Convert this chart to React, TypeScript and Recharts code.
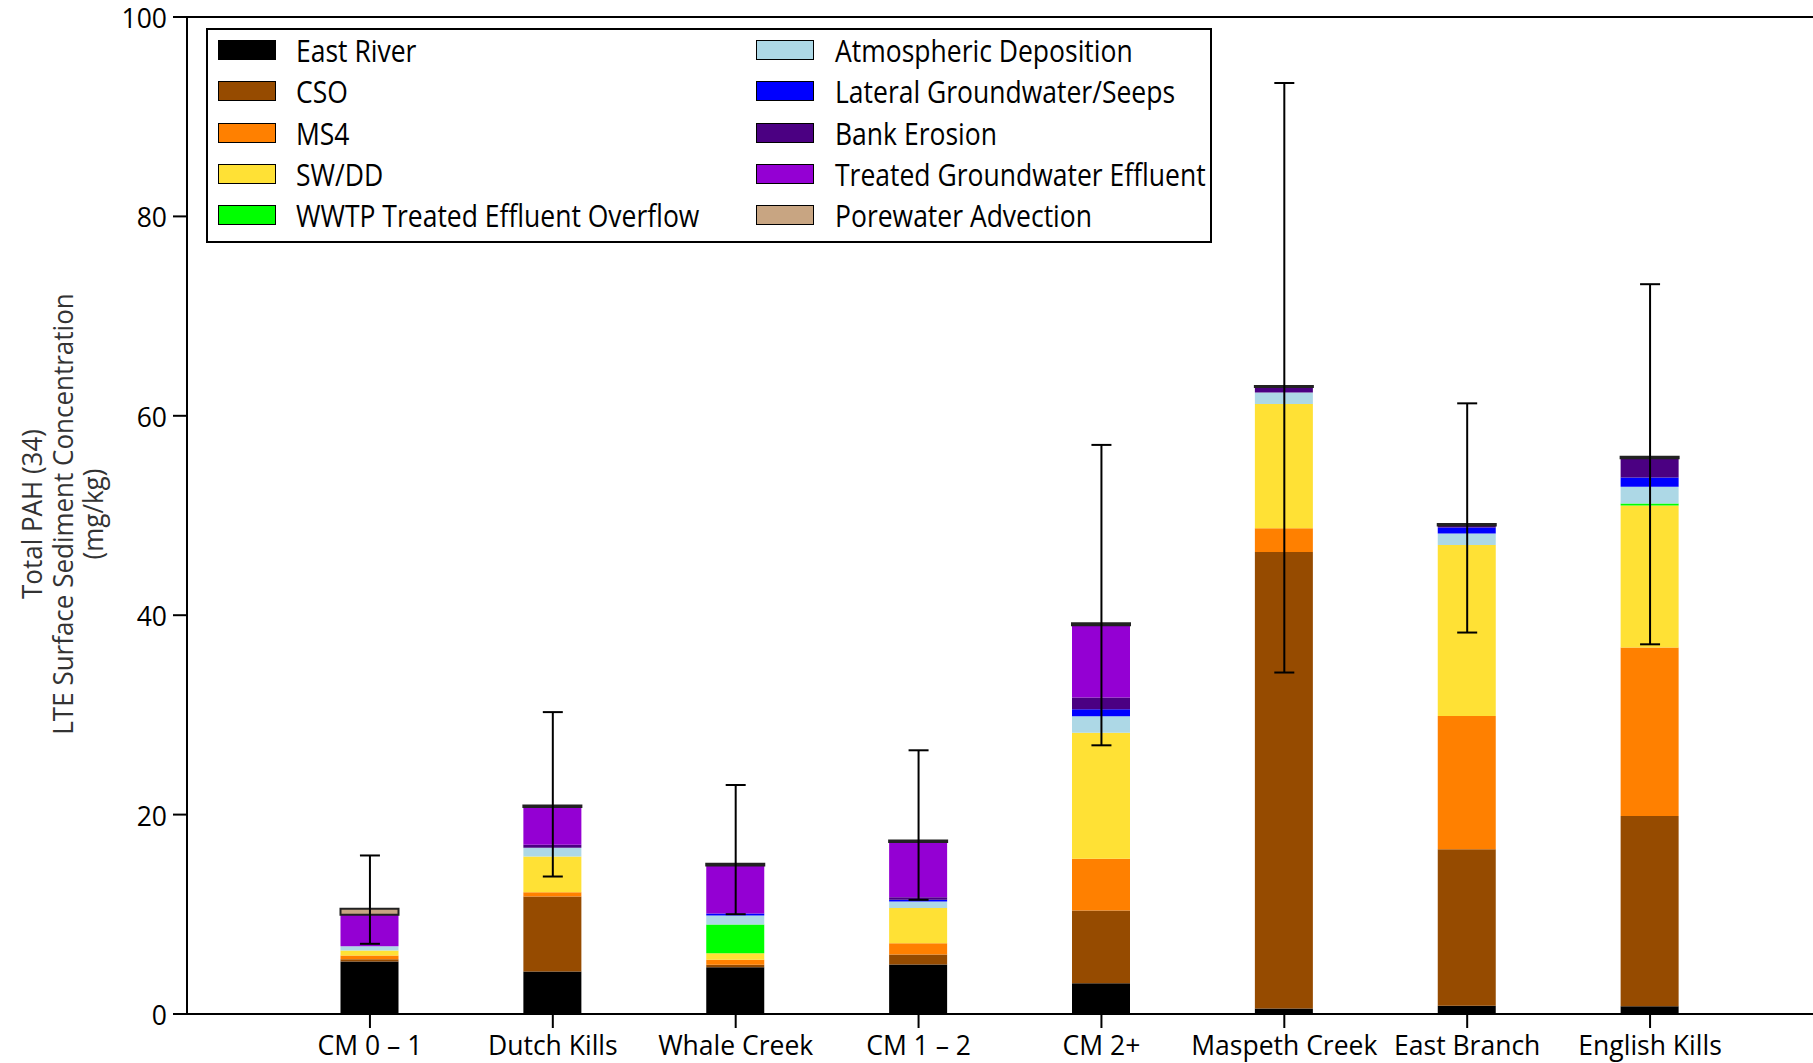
import React from 'react';
import { ComposedChart, Bar, Line, XAxis, YAxis, ErrorBar, ReferenceLine } from 'recharts';

const categories = ['CM 0 – 1', 'Dutch Kills', 'Whale Creek', 'CM 1 – 2', 'CM 2+', 'Maspeth Creek', 'East Branch', 'English Kills'];

const eastRiver = [5.26, 4.26, 4.69, 4.96, 3.09, 0.55, 0.82, 0.78];
const cso = [0.24, 7.53, 0.24, 1.0, 7.29, 45.8, 15.71, 19.08];
const ms4 = [0.36, 0.43, 0.5, 1.14, 5.19, 2.37, 13.37, 16.9];
const swdd = [0.51, 3.58, 0.67, 3.52, 12.65, 12.47, 17.13, 14.25];
const wwtp = [0, 0, 2.88, 0, 0, 0, 0, 0.2];
const atmospheric = [0.43, 0.87, 0.9, 0.66, 1.64, 1.14, 1.17, 1.67];
const lateral = [0, 0, 0.2, 0.17, 0.7, 0, 0.6, 0.94];
const bankErosion = [0, 0.3, 0, 0.25, 1.18, 0.55, 0.2, 1.93];
const treatedGW = [3.15, 3.79, 4.82, 5.55, 7.26, 0, 0, 0];
const porewater = [0.6, 0.16, 0.17, 0.15, 0.2, 0.12, 0.14, 0.15];

const errLow = [7.04, 13.79, 10.01, 11.45, 26.95, 34.25, 38.26, 37.08];
const errHigh = [15.9, 30.28, 22.97, 26.45, 57.08, 93.38, 61.25, 73.2];

const yTicks = [0, 20, 40, 60, 80, 100];
const titleLines = ['Total PAH (34)', 'LTE Surface Sediment Concentration', '(mg/kg)'];

const series = [
  { key: 'eastRiver', name: 'East River', values: eastRiver, color: '#000000' },
  { key: 'cso', name: 'CSO', values: cso, color: '#964B00' },
  { key: 'ms4', name: 'MS4', values: ms4, color: '#FF8000' },
  { key: 'swdd', name: 'SW/DD', values: swdd, color: '#FFE135' },
  { key: 'wwtp', name: 'WWTP Treated Effluent Overflow', values: wwtp, color: '#00FF00' },
  { key: 'atmospheric', name: 'Atmospheric Deposition', values: atmospheric, color: '#ADD8E6' },
  { key: 'lateral', name: 'Lateral Groundwater/Seeps', values: lateral, color: '#0000FF' },
  { key: 'bankErosion', name: 'Bank Erosion', values: bankErosion, color: '#4B0082' },
  { key: 'treatedGW', name: 'Treated Groundwater Effluent', values: treatedGW, color: '#9400D3' },
  { key: 'porewater', name: 'Porewater Advection', values: porewater, color: '#C8A582' },
];

const data = categories.map((name, i) => {
  const row: any = { name };
  let total = 0;
  series.forEach((s) => {
    row[s.key] = s.values[i];
    total += s.values[i];
  });
  row.total = total;
  row.err = [total - errLow[i], errHigh[i] - total];
  return row;
});

const FONT = '"Open Sans", sans-serif';
const FS = 26.5;
const STRETCH = 1.18;

const XTick = (props: any) => {
  const { x, y, payload } = props;
  return (
    <text x={x} y={y} dy="0.71em" textAnchor="middle" fontSize={FS} fontFamily={FONT} fill="#000">
      {payload.value}
    </text>
  );
};

const YTick = (props: any) => {
  const { x, y, payload } = props;
  return (
    <text x={x} y={y + 1.5} dy="0.355em" textAnchor="end" fontSize={FS} fontFamily={FONT} fill="#000">
      {payload.value}
    </text>
  );
};

const YTitle = () => (
  <g>
    {titleLines.map((t, i) => {
      const x = 31 + i * 30.7;
      const y = 514;
      return (
        <g key={i} transform={`translate(${x},${y}) rotate(-90) scale(1,1.08)`}>
          <text x={0} y={0} textAnchor="middle" dominantBaseline="central" fontSize={26} fontFamily={FONT} fill="#333">
            {t}
          </text>
        </g>
      );
    })}
  </g>
);

const LegendBox = () => {
  const col1 = series.slice(0, 5);
  const col2 = series.slice(5);
  const renderItem = (s: any, i: number, col: number) => {
    const top = 20 + i * 41.3;
    const swLeft = col === 0 ? 9.6 : 548;
    const txLeft = col === 0 ? 88 : 627;
    return (
      <React.Fragment key={s.key}>
        <div
          style={{
            position: 'absolute',
            left: swLeft,
            top: top - 10,
            width: 58,
            height: 20,
            boxSizing: 'border-box',
            border: '1.5px solid #000',
            background: s.color,
          }}
        />
        <div
          style={{
            position: 'absolute',
            left: txLeft,
            top: top,
            transform: `translateY(-50%) scaleY(${STRETCH})`,
            transformOrigin: 'left center',
            fontSize: FS,
            lineHeight: 1,
            whiteSpace: 'nowrap',
            color: '#000',
            fontFamily: FONT,
          }}
        >
          {s.name}
        </div>
      </React.Fragment>
    );
  };
  return (
    <div
      style={{
        position: 'absolute',
        left: 206,
        top: 28,
        width: 1006,
        height: 215,
        boxSizing: 'border-box',
        border: '2px solid #000',
        background: '#fff',
      }}
    >
      {col1.map((s, i) => renderItem(s, i, 0))}
      {col2.map((s, i) => renderItem(s, i, 1))}
    </div>
  );
};

export default function App() {
  return (
    <div style={{ position: 'absolute', left: 0, top: 0, width: 1813, height: 1063, background: '#fff', overflow: 'hidden' }}>
      <ComposedChart
        width={1813}
        height={1063}
        data={data}
        margin={{ top: 17, right: 0, left: 0, bottom: 0 }}
        barCategoryGap={0}
      >
        <XAxis
          dataKey="name"
          interval={0}
          height={49}
          padding={{ left: 91.5, right: 71.5 }}
          tickSize={14}
          tickMargin={8}
          tick={<XTick />}
          axisLine={{ stroke: '#000', strokeWidth: 2 }}
          tickLine={{ stroke: '#000', strokeWidth: 2 }}
        />
        <YAxis
          type="number"
          domain={[0, 100]}
          ticks={yTicks}
          width={187}
          tickSize={14}
          tickMargin={6}
          tick={<YTick />}
          axisLine={{ stroke: '#000', strokeWidth: 2 }}
          tickLine={{ stroke: '#000', strokeWidth: 2 }}
          label={{ content: () => <YTitle /> }}
        />
        <ReferenceLine y={100} stroke="#000" strokeWidth={2} />
        {series.map((s) => (
          <Bar
            key={s.key}
            dataKey={s.key}
            name={s.name}
            stackId="a"
            fill={s.color}
            barSize={58}
            stroke={s.key === 'porewater' ? '#222' : undefined}
            strokeWidth={s.key === 'porewater' ? 2 : 0}
            isAnimationActive={false}
          />
        ))}
        <Line
          dataKey="total"
          stroke="none"
          dot={false}
          activeDot={false}
          legendType="none"
          isAnimationActive={false}
        >
          <ErrorBar dataKey="err" width={10} strokeWidth={2} stroke="#000" direction="y" isAnimationActive={false} />
        </Line>
      </ComposedChart>
      <LegendBox />
    </div>
  );
}
